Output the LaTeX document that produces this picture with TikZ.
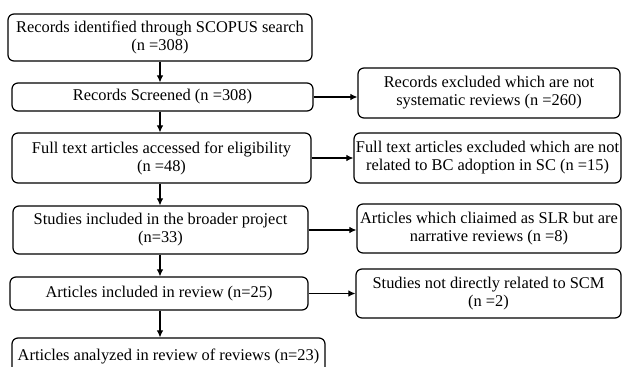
\documentclass[tikz,border=0pt]{standalone}
\usepackage{fontspec}
\setmainfont{Liberation Serif}
\usetikzlibrary{arrows.meta}
\begin{document}
\begin{tikzpicture}[x=1pt,y=-1pt,
  box/.style={draw,line width=1.2pt,rounded corners=6pt,align=center,inner sep=1pt,
    font=\fontsize{16.4}{18}\selectfont},
  arr/.style={line width=1.1pt,-{Latex[length=7pt,width=6.5pt]}}]
\useasboundingbox (0,0) rectangle (622,367);
\clip (0,0) rectangle (622,367);
\node[box,minimum width=304pt,minimum height=47pt] (b1) at (160,37.5) {Records identified through SCOPUS search\\(n =308)};
\node[box,minimum width=301pt,minimum height=28pt] (b2) at (162.5,97) {Records Screened (n =308)};
\node[box,minimum width=299pt,minimum height=50pt] (b3) at (161.5,158) {Full text articles accessed for eligibility\\(n =48)};
\node[box,minimum width=295pt,minimum height=48pt] (b4) at (160.5,230) {Studies included in the broader project\\(n=33)};
\node[box,minimum width=298pt,minimum height=33pt] (b5) at (159,293.5) {Articles included in review (n=25)};
\node[box,minimum width=313pt,minimum height=36pt] (b6) at (168.5,356) {Articles analyzed in review of reviews (n=23)};
\node[box,minimum width=262pt,minimum height=50pt] (r1) at (489,93) {Records excluded which are not\\systematic reviews (n =260)};
\node[box,minimum width=267pt,minimum height=50pt] (r2) at (487.5,158) {Full text articles excluded which are not\\related to BC adoption in SC (n =15)};
\node[box,minimum width=264pt,minimum height=49pt] (r3) at (489,228.5) {Articles which cliaimed as SLR but are\\narrative reviews (n =8)};
\node[box,minimum width=265pt,minimum height=49pt] (r4) at (488.5,293.5) {Studies not directly related to SCM\\(n =2)};
\coordinate (vx) at (160,0);
\draw[arr] (vx |- b1.south) -- (vx |- b2.north);
\draw[arr] (vx |- b2.south) -- (vx |- b3.north);
\draw[arr] (vx |- b3.south) -- (vx |- b4.north);
\draw[arr] (vx |- b4.south) -- (vx |- b5.north);
\draw[arr] (vx |- b5.south) -- (vx |- b6.north);
\draw[arr] (b2.east) -- (r1.west |- b2.east);
\draw[arr] (b3.east) -- (r2.west |- b3.east);
\draw[arr] (b4.east) -- (r3.west |- b4.east);
\draw[arr] (b5.east) -- (r4.west |- b5.east);
\end{tikzpicture}
\end{document}
